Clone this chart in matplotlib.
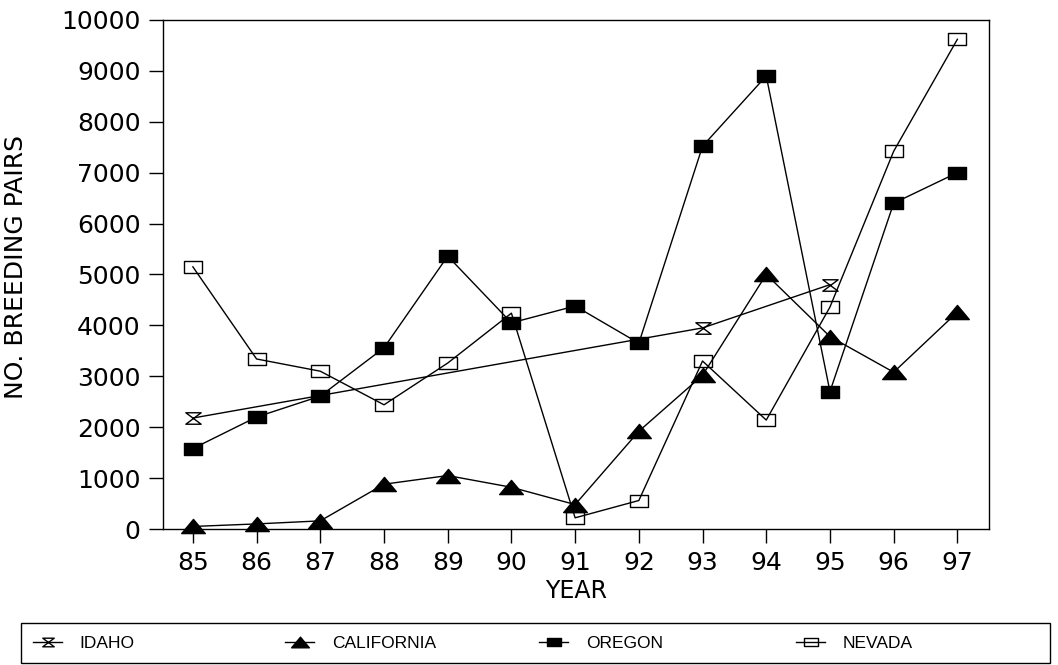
import matplotlib
matplotlib.use("Agg")
import matplotlib.pyplot as plt
from matplotlib.path import Path
from matplotlib.patches import Rectangle

years = [85, 86, 87, 88, 89, 90, 91, 92, 93, 94, 95, 96, 97]

idaho_years = [85, 93, 95]
idaho = [2180, 3950, 4800]

california = [50, 100, 160, 880, 1050, 820, 480, 1920, 3020, 5000, 3780, 3080, 4260]
oregon = [1580, 2200, 2610, 3560, 5360, 4050, 4380, 3650, 7520, 8900, 2700, 6400, 7000]
nevada = [5150, 3340, 3100, 2440, 3260, 4240, 220, 560, 3300, 2140, 4360, 7420, 9620]

ytick_vals = list(range(0, 10001, 1000))
names = ['IDAHO', 'CALIFORNIA', 'OREGON', 'NEVADA']

plt.rcParams['font.family'] = ['DejaVu Sans']

# custom marker shapes
hourglass = Path([(-1, 0.75), (1, 0.75), (-1, -0.75), (1, -0.75), (-1, 0.75)],
                 [Path.MOVETO, Path.LINETO, Path.LINETO, Path.LINETO, Path.CLOSEPOLY])
box = Path([(-1, -0.66), (1, -0.66), (1, 0.66), (-1, 0.66), (-1, -0.66)],
           [Path.MOVETO, Path.LINETO, Path.LINETO, Path.LINETO, Path.CLOSEPOLY])
flat_tri = Path([(-1, -0.6), (1, -0.6), (0, 0.6), (-1, -0.6)],
                [Path.MOVETO, Path.LINETO, Path.LINETO, Path.CLOSEPOLY])

fig = plt.figure(figsize=(10.58, 6.65), dpi=100)
ax = fig.add_axes([0.154, 0.2045, 0.781, 0.7655])

lines = []
lines += ax.plot(idaho_years, idaho, color='k', lw=1, marker=hourglass, ms=11,
                 mfc='none', mec='k', mew=1, clip_on=False)
lines += ax.plot(years, california, color='k', lw=1, marker=flat_tri, ms=17,
                 mfc='k', mec='k', clip_on=False)
lines += ax.plot(years, oregon, color='k', lw=1, marker=box, ms=12.5,
                 mfc='k', mec='k', clip_on=False)
lines += ax.plot(years, nevada, color='k', lw=1, marker=box, ms=12.5,
                 mfc='none', mec='k', mew=1, clip_on=False)

ax.set_xlim(84.53, 97.5)
ax.set_ylim(0, 10000)
ax.set_xticks(years)
ax.set_xticklabels([str(y) for y in years])
ax.set_yticks(ytick_vals)
ax.tick_params(direction='out', length=10, width=1, labelsize=18, pad=6)

for s in ax.spines.values():
    s.set_linewidth(1)

ax.set_xlabel('YEAR', fontsize=17, labelpad=3)
ax.set_ylabel('NO. BREEDING PAIRS', fontsize=18)
ax.yaxis.set_label_coords(-0.163, 0.515)

# legend strip: one box, four evenly spaced entries
fig.patches.append(Rectangle((21 / 1058, 2 / 665), 1029 / 1058, 40 / 665,
                             transform=fig.transFigure, fill=False,
                             edgecolor='k', lw=1))
col_x = [26, 278, 532, 789]
for ln, nm, cx in zip(lines, names, col_x):
    fig.legend([ln], [nm], loc='center left',
               bbox_to_anchor=(cx / 1058, 22 / 665), frameon=False,
               prop={'family': ['Liberation Sans'], 'size': 12.5},
               handlelength=1.7, markerscale=0.75,
               handletextpad=1.0, borderaxespad=0)

fig.savefig('out.png', dpi=100)
